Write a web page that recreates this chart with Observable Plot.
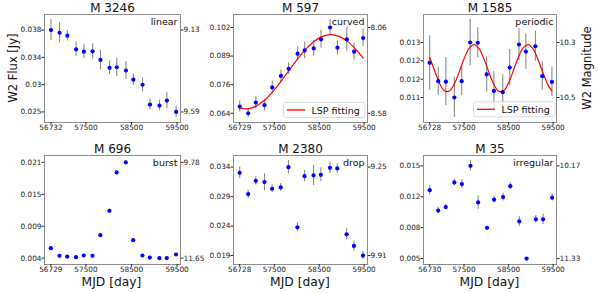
<!DOCTYPE html>
<html><head><meta charset="utf-8">
<script src="https://cdn.jsdelivr.net/npm/d3@7"></script>
<script src="https://cdn.jsdelivr.net/npm/@observablehq/plot@0.6"></script>
<style>
body{margin:0;background:#fff;}
#c{position:relative;width:598px;height:293px;overflow:hidden;background:#fff;font-family:"DejaVu Sans",sans-serif;}
#c svg{position:absolute;}
</style></head>
<body><div id="c"></div>
<script>
// ---------- data ----------
const titles = ["M 3246", "M 597", "M 1585", "M 696", "M 2380", "M 35"];
const kinds = ["linear", "curved", "periodic", "burst", "drop", "irregular"];

const m3246Mjd = [56732, 56921, 57091, 57284, 57454, 57646, 57818, 58018, 58176, 58378, 58540, 58742, 58905, 59114, 59276, 59479];
const m3246Flux = [0.03828, 0.03785, 0.03737, 0.03517, 0.03480, 0.03485, 0.03347, 0.03219, 0.03228, 0.03176, 0.03027, 0.02946, 0.02626, 0.02610, 0.02690, 0.02507];
const m3246Err = [0.00172, 0.00165, 0.00085, 0.00117, 0.00112, 0.00123, 0.0016, 0.00107, 0.00149, 0.00144, 0.00091, 0.00112, 0.00085, 0.00085, 0.00133, 0.00091];
const m3246FluxTicks = ["0.025", "0.03", "0.034", "0.038"];
const m3246MagTicks = ["9.13", "9.59"];

const m597Mjd = [56729, 56917, 57087, 57281, 57453, 57646, 57818, 58019, 58175, 58377, 58540, 58741, 58906, 59114, 59277, 59478];
const m597Flux = [0.06656, 0.06353, 0.06840, 0.06720, 0.07528, 0.08052, 0.08373, 0.09062, 0.09214, 0.09305, 0.09719, 0.10256, 0.09338, 0.09719, 0.09154, 0.09778];
const m597Err = [0.00253, 0.00197, 0.00266, 0.00266, 0.00289, 0.00266, 0.00262, 0.00321, 0.00381, 0.00358, 0.00413, 0.00367, 0.00344, 0.00537, 0.00381, 0.00404];
const m597FluxTicks = ["0.064", "0.076", "0.089", "0.102"];
const m597MagTicks = ["8.06", "8.58"];
const m597FitMjd = [56730, 56894, 57080, 57266, 57452, 57639, 57825, 58011, 58197, 58384, 58570, 58756, 58942, 59129, 59315, 59479];
const m597FitFlux = [0.06587, 0.06553, 0.06665, 0.06924, 0.07307, 0.07780, 0.08294, 0.08805, 0.09261, 0.09622, 0.09852, 0.09933, 0.09853, 0.09624, 0.09261, 0.08866];

const m1585Mjd = [56728, 56921, 57092, 57283, 57447, 57637, 57808, 58008, 58170, 58369, 58525, 58733, 58888, 59101, 59256, 59472];
const m1585Flux = [0.01222, 0.01149, 0.01147, 0.01084, 0.01149, 0.01303, 0.01302, 0.01176, 0.01110, 0.01105, 0.01203, 0.01295, 0.01267, 0.01288, 0.01169, 0.01146];
const m1585Err = [0.00108, 0.00056, 0.00096, 0.0008, 0.00058, 0.00092, 0.0006, 0.0007, 0.00078, 0.0007, 0.00072, 0.00064, 0.0007, 0.0006, 0.00056, 0.00058];
const m1585FluxTicks = ["0.011", "0.012", "0.012", "0.013"];
const m1585MagTicks = ["10.3", "10.5"];
const m1585FitMjd = [56729, 56840, 56950, 57061, 57172, 57283, 57394, 57505, 57616, 57727, 57838, 57949, 58059, 58170, 58281, 58392, 58503, 58614, 58725, 58836, 58947, 59058, 59168, 59279, 59390, 59472];
const m1585FitFlux = [0.012435, 0.011907, 0.011411, 0.011108, 0.011099, 0.011384, 0.011871, 0.012402, 0.012806, 0.012949, 0.012784, 0.012369, 0.011835, 0.011356, 0.011090, 0.011121, 0.011440, 0.011943, 0.012474, 0.012834, 0.012946, 0.012752, 0.012317, 0.011788, 0.011322, 0.011108];

const m696Mjd = [56729, 56918, 57088, 57281, 57451, 57643, 57815, 58015, 58173, 58375, 58537, 58739, 58902, 59111, 59273, 59476];
const m696Flux = [0.005561, 0.004174, 0.004053, 0.003933, 0.004234, 0.004174, 0.00791, 0.012309, 0.019238, 0.02104, 0.007007, 0.004234, 0.003872, 0.003758, 0.003765, 0.004414];
const m696Err = [0.0003, 0.00025, 0.00025, 0.00025, 0.00025, 0.00025, 0.0003, 0.0003, 0.0003, 0.00035, 0.0003, 0.00025, 0.00025, 0.00025, 0.00025, 0.00025];
const m696FluxTicks = ["0.004", "0.009", "0.015", "0.021"];
const m696MagTicks = ["9.78", "11.65"];

const m2380Mjd = [56728, 56917, 57087, 57280, 57450, 57642, 57814, 58014, 58172, 58374, 58536, 58738, 58901, 59110, 59272, 59475];
const m2380Flux = [0.03328, 0.02952, 0.03187, 0.03164, 0.03046, 0.03070, 0.03428, 0.02365, 0.03269, 0.03281, 0.03293, 0.03416, 0.03405, 0.02242, 0.02036, 0.01866];
const m2380Err = [0.00106, 0.0007, 0.00076, 0.00146, 0.00065, 0.0007, 0.00118, 0.00076, 0.001, 0.00176, 0.00123, 0.001, 0.00083, 0.001, 0.00088, 0.0007];
const m2380FluxTicks = ["0.019", "0.024", "0.029", "0.034"];
const m2380MagTicks = ["9.25", "9.91"];

const m35Mjd = [56730, 56919, 57089, 57282, 57452, 57644, 57816, 58016, 58174, 58376, 58538, 58740, 58903, 59112, 59274, 59477];
const m35Flux = [0.01216, 0.01004, 0.01040, 0.01297, 0.01279, 0.01469, 0.01089, 0.00825, 0.01117, 0.01145, 0.01258, 0.00892, 0.00505, 0.00913, 0.00913, 0.01138];
const m35Err = [0.0005, 0.00032, 0.00028, 0.00035, 0.00042, 0.00056, 0.0007, 0.00014, 0.00032, 0.00042, 0.00035, 0.0005, 0.0001, 0.00039, 0.00053, 0.00035];
const m35FluxTicks = ["0.005", "0.008", "0.012", "0.015"];
const m35MagTicks = ["10.17", "11.33"];

const mjdRoundTicks = [57500, 58500, 59500];
const xDomain = [56590, 59575];

// ---------- layout ----------
const cols = [{left: 0, width: 200, ml: 44, mr: 20}, {left: 195, width: 190, ml: 38, mr: 18}, {left: 390, width: 208, ml: 33, mr: 42}];
const rows = [{top: 0, height: 146, mt: 14, mb: 24}, {top: 141, height: 152, mt: 14, mb: 29}];

const panels = [
  {mjd: m3246Mjd, flux: m3246Flux, err: m3246Err, ft: m3246FluxTicks, mt: m3246MagTicks},
  {mjd: m597Mjd, flux: m597Flux, err: m597Err, ft: m597FluxTicks, mt: m597MagTicks, fitMjd: m597FitMjd, fitFlux: m597FitFlux},
  {mjd: m1585Mjd, flux: m1585Flux, err: m1585Err, ft: m1585FluxTicks, mt: m1585MagTicks, fitMjd: m1585FitMjd, fitFlux: m1585FitFlux},
  {mjd: m696Mjd, flux: m696Flux, err: m696Err, ft: m696FluxTicks, mt: m696MagTicks},
  {mjd: m2380Mjd, flux: m2380Flux, err: m2380Err, ft: m2380FluxTicks, mt: m2380MagTicks},
  {mjd: m35Mjd, flux: m35Flux, err: m35Err, ft: m35FluxTicks, mt: m35MagTicks}
];

const container = document.getElementById("c");
const linspace = (a, b, n) => Array.from({length: n}, (_, i) => a + (b - a) * i / (n - 1));

panels.forEach((p, k) => {
  const col = cols[k % 3], row = rows[Math.floor(k / 3)];
  const data = p.mjd.map((m, i) => ({mjd: m, flux: p.flux[i], err: p.err[i]}));
  const lo = d3.min(data, d => d.flux - d.err), hi = d3.max(data, d => d.flux + d.err);
  const pad = 0.05 * (hi - lo);
  const fmin = d3.min(p.flux), fmax = d3.max(p.flux);
  const yt = linspace(fmin, fmax, 4);
  const xt = [p.mjd[0], ...mjdRoundTicks];
  const marks = [
    Plot.frame({stroke: "#8c8c8c", strokeWidth: 1}),
    Plot.axisX({ticks: xt, tickFormat: d => String(d), tickSize: 2.5, tickPadding: 0.3, label: null, fontSize: 7.3}),
    Plot.axisY({anchor: "left", ticks: yt, tickFormat: d => p.ft[yt.indexOf(d)], tickSize: 2.5, tickPadding: 0.5, label: null, fontSize: 7.3}),
    Plot.axisY({anchor: "right", ticks: [fmax, fmin], tickFormat: d => (d === fmax ? p.mt[0] : p.mt[1]), tickSize: 2.5, tickPadding: 0.5, label: null, fontSize: 7.3}),
    Plot.ruleX(data, {x: "mjd", y1: d => d.flux - d.err, y2: d => d.flux + d.err, stroke: "#8a8a8a", strokeWidth: 1.1})
  ];
  if (p.fitMjd) {
    const fit = p.fitMjd.map((m, i) => ({mjd: m, flux: p.fitFlux[i]}));
    marks.push(Plot.line(fit, {x: "mjd", y: "flux", stroke: "#ff0000", strokeWidth: 1.2, curve: "catmull-rom"}));
  }
  marks.push(
    Plot.dot(data, {x: "mjd", y: "flux", r: 2.1, fill: "#0000ff", stroke: "none"}),
    Plot.text([kinds[k]], {text: d => d, frameAnchor: "top-right", textAnchor: "end", lineAnchor: "top", dx: -3, dy: 4, fontSize: 9.5, fill: "#111"}),
    Plot.text([titles[k]], {text: d => d, frameAnchor: "top", lineAnchor: "bottom", dy: -2.5, fontSize: 12, fill: "#111"})
  );
  const svg = Plot.plot({
    width: col.width, height: row.height,
    marginLeft: col.ml, marginRight: col.mr, marginTop: row.mt, marginBottom: row.mb,
    x: {domain: xDomain},
    y: {domain: [lo - pad, hi + pad]},
    style: {fontFamily: "DejaVu Sans", fontSize: "7.3px", color: "#222", background: "transparent", overflow: "visible"},
    marks
  });
  svg.style.left = col.left + "px";
  svg.style.top = row.top + "px";
  container.appendChild(svg);
});

// ---------- overlay: axis titles and legends ----------
const ov = d3.select(container).append("svg")
  .attr("width", 598).attr("height", 293)
  .style("left", "0px").style("top", "0px")
  .style("font-family", "DejaVu Sans").style("pointer-events", "none");

ov.append("text").attr("transform", "translate(17,68) rotate(-90)")
  .attr("text-anchor", "middle").attr("font-size", 11.5).attr("fill", "#111").text("W2 Flux [Jy]");
ov.append("text").attr("transform", "translate(591,68) rotate(-90)")
  .attr("text-anchor", "middle").attr("font-size", 11.5).attr("fill", "#111").text("W2 Magnitude");
[111.5, 300, 489.5].forEach(cx => {
  ov.append("text").attr("x", cx).attr("y", 285.5).attr("text-anchor", "middle")
    .attr("font-size", 12.3).attr("fill", "#111").text("MJD [day]");
});

[{x: 283.5, y: 102.5}, {x: 473.5, y: 101.8}].forEach(b => {
  const g = ov.append("g").attr("transform", `translate(${b.x},${b.y})`);
  g.append("rect").attr("width", 81.5).attr("height", 15).attr("rx", 2.5)
    .attr("fill", "rgba(255,255,255,0.8)").attr("stroke", "#d3d3d3").attr("stroke-width", 0.8);
  g.append("line").attr("x1", 3.5).attr("x2", 21.5).attr("y1", 7.5).attr("y2", 7.5)
    .attr("stroke", "#ff0000").attr("stroke-width", 1.3);
  g.append("text").attr("x", 28).attr("y", 11).attr("font-size", 9.5).attr("fill", "#111").text("LSP fitting");
});
</script>
</body></html>
